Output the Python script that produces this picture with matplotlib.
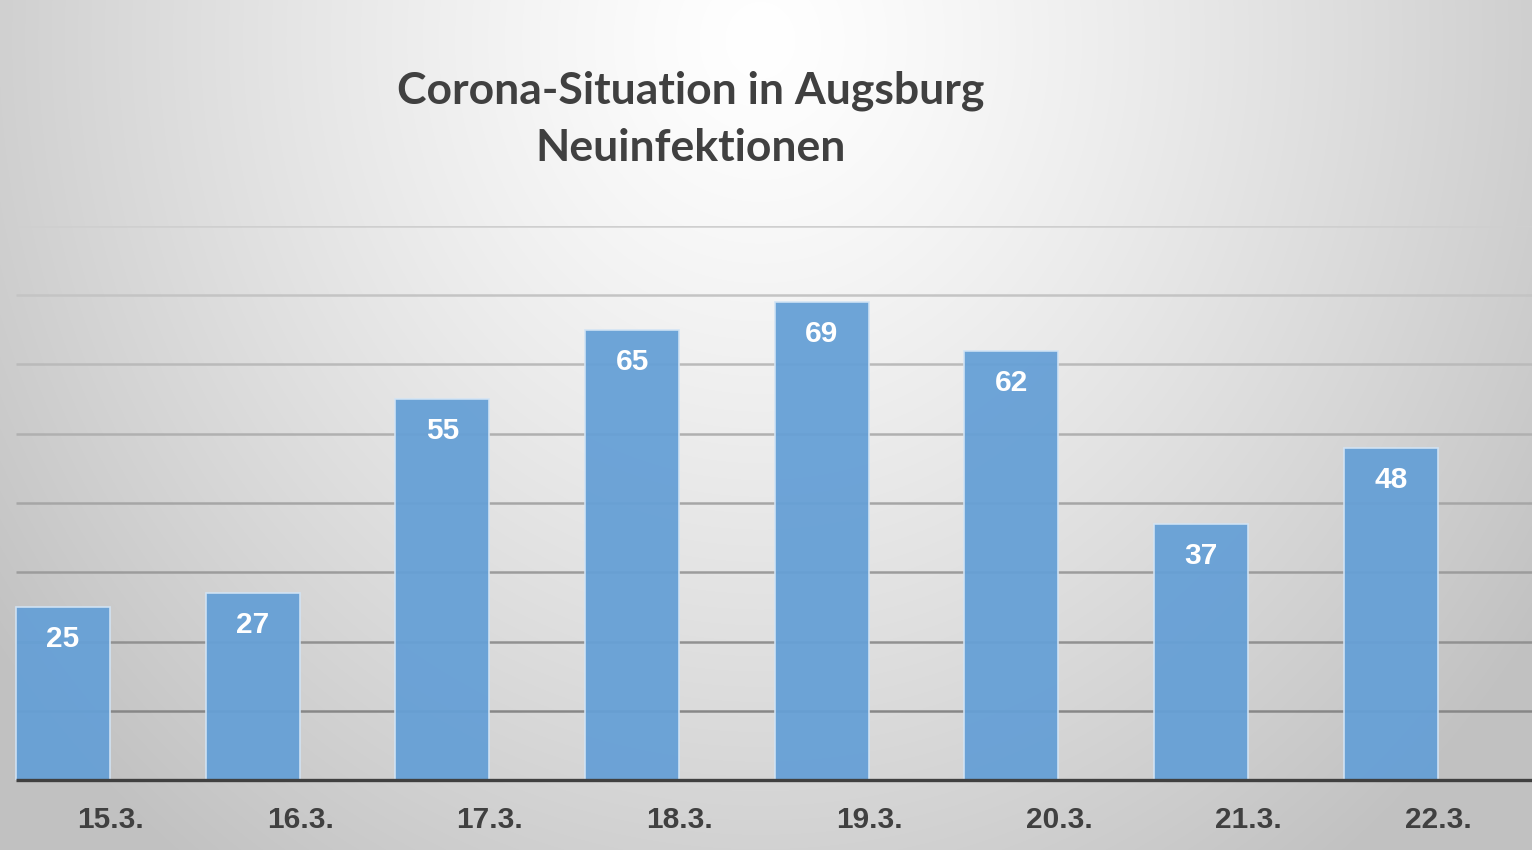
import numpy as np
import matplotlib
matplotlib.use("Agg")
import matplotlib.pyplot as plt

# Data
categories = ["15.3.", "16.3.", "17.3.", "18.3.", "19.3.", "20.3.", "21.3.", "22.3."]
values = [25, 27, 55, 65, 69, 62, 37, 48]
grid_levels = [10, 20, 30, 40, 50, 60, 70, 80]
title_line1 = "Corona-Situation in Augsburg"
title_line2 = "Neuinfektionen"

W, H = 1532, 850
fig = plt.figure(figsize=(W / 100, H / 100), dpi=100)

# Background radial gradient
bg = fig.add_axes([0, 0, 1, 1], zorder=0)
yy, xx = np.mgrid[0:H, 0:W]
d = np.sqrt(((xx - 760) / 1.0) ** 2 + ((yy - 40) / 1.1) ** 2)
t = np.clip(d / 950.0, 0, 1)
val = 255 - 62 * t ** 1.25
val = np.clip(val, 0, 255) / 255.0
img = np.dstack([val, val, val])
bg.imshow(img, aspect="auto", extent=[0, 1, 0, 1], origin="upper")
bg.set_axis_off()

# Main axes
spacing = 189.7
c0 = 63.0
left_x = -c0 / spacing
right_x = (W - c0) / spacing
bottom_px = 780
top_px = 226
ax = fig.add_axes([0, (H - bottom_px) / H, 1, (bottom_px - top_px) / H], zorder=1)
ax.patch.set_alpha(0)
ax.set_xlim(left_x, right_x)
ax.set_ylim(0, 80)

bar_w = 94 / spacing
x = np.arange(len(categories))

# Gridlines (darker towards bottom)
for g in grid_levels:
    frac = (g - 10) / 70.0
    c = 0.53 + (0.81 - 0.53) * frac
    ax.hlines(g, -bar_w / 2, right_x, colors=[(c, c, c)], linewidth=1.8, zorder=1)

bars = ax.bar(x, values, width=bar_w, color="#66a0d6", alpha=0.95,
              edgecolor="#d2e4f5", linewidth=1.2, zorder=2)

# Baseline
ax.hlines(0, -bar_w / 2, right_x, colors="#404040", linewidth=2.4, zorder=3, clip_on=False)

# Value labels
for xi, v in zip(x, values):
    ax.annotate(str(v), (xi, v), xytext=(0, -32 * 0.72), textcoords="offset points",
                ha="center", va="center", color="white", fontsize=21.5,
                fontweight="bold", family="Liberation Sans", zorder=4)

# Tick labels offset to bar right edges
ax.set_xticks(x + 0.25)
ax.set_xticklabels(categories, fontsize=21.5, fontweight="bold",
                   family="Liberation Sans", color="#404040")
ax.tick_params(axis="x", length=0, pad=18.5)
ax.set_yticks([])
for s in ax.spines.values():
    s.set_visible(False)

# Titles
fig.text(691 / W, 1 - 91 / H, title_line1, ha="center", va="center",
         fontsize=32, fontweight="bold", family="Lato", color="#404040")
fig.text(691 / W, 1 - 148 / H, title_line2, ha="center", va="center",
         fontsize=32, fontweight="bold", family="Lato", color="#404040")

fig.savefig("out.png", dpi=100)
